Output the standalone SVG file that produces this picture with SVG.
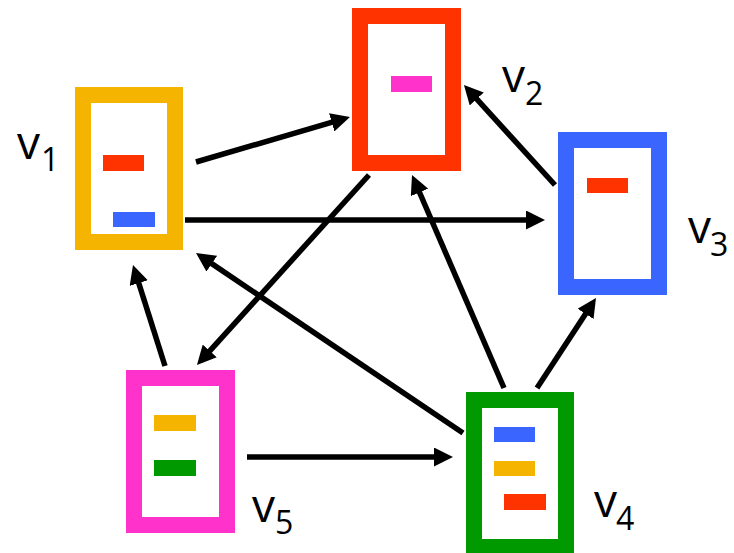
<svg xmlns="http://www.w3.org/2000/svg" width="734" height="553" viewBox="0 0 734 553">
<style>
.frame{fill:#fff;stroke-width:16}
.lbl{font-family:"Open Sans","Liberation Sans",sans-serif;font-size:46px;fill:#000}
.sub{font-size:32px}
.edge{stroke:#000;stroke-width:5.5;fill:none}
</style>
<defs>
<marker id="ah" viewBox="0 0 19 19" markerWidth="19" markerHeight="19" markerUnits="userSpaceOnUse" refX="13" refY="9.5" orient="auto">
<path d="M0,0 L19,9.5 L0,19 z" fill="#000"/>
</marker>
</defs>
<rect width="734" height="553" fill="#fff"/>
<g id="v1">
<rect class="frame" x="83" y="95" width="92" height="147" stroke="#F4B400"/>
<rect x="103" y="155" width="41" height="16" fill="#FF3300"/>
<rect x="113" y="212" width="42" height="15" fill="#3A66FF"/>
<text class="lbl" x="17" y="159">v</text><text class="lbl sub" x="41" y="171">1</text>
</g>
<g id="v2">
<rect class="frame" x="360" y="16" width="93" height="147" stroke="#FF3300"/>
<rect x="391" y="76" width="41" height="16" fill="#FF33CC"/>
<text class="lbl" x="502" y="92">v</text><text class="lbl sub" x="525" y="105">2</text>
</g>
<g id="v3">
<rect class="frame" x="566" y="140" width="93" height="147" stroke="#3A66FF"/>
<rect x="587" y="178" width="41" height="15" fill="#FF3300"/>
<text class="lbl" x="688" y="243">v</text><text class="lbl sub" x="710" y="256">3</text>
</g>
<g id="v5">
<rect class="frame" x="134" y="378" width="93" height="147" stroke="#FF33CC"/>
<rect x="154" y="415" width="42" height="16" fill="#F4B400"/>
<rect x="154" y="460" width="42" height="16" fill="#009900"/>
<text class="lbl" x="252" y="522">v</text><text class="lbl sub" x="275" y="534">5</text>
</g>
<g id="v4">
<rect class="frame" x="474" y="400" width="92" height="147" stroke="#009900"/>
<rect x="494" y="427" width="41" height="15" fill="#3A66FF"/>
<rect x="494" y="461" width="41" height="15" fill="#F4B400"/>
<rect x="504" y="494" width="42" height="16" fill="#FF3300"/>
<text class="lbl" x="594" y="517">v</text><text class="lbl sub" x="616" y="530">4</text>
</g>
<g id="edges">
<line class="edge" x1="185" y1="220" x2="539" y2="220" marker-end="url(#ah)"/>
<line class="edge" x1="196" y1="162" x2="344.2" y2="118.7" marker-end="url(#ah)"/>
<line class="edge" x1="369" y1="175" x2="201" y2="360.6" marker-end="url(#ah)"/>
<line class="edge" x1="463" y1="433" x2="201" y2="256.4" marker-end="url(#ah)"/>
<line class="edge" x1="165" y1="366" x2="134.8" y2="270.7" marker-end="url(#ah)"/>
<line class="edge" x1="504" y1="388" x2="414.4" y2="180.5" marker-end="url(#ah)"/>
<line class="edge" x1="537" y1="388" x2="592.7" y2="303" marker-end="url(#ah)"/>
<line class="edge" x1="555" y1="185" x2="468" y2="89.4" marker-end="url(#ah)"/>
<line class="edge" x1="247" y1="457" x2="447" y2="457" marker-end="url(#ah)"/>
</g>
</svg>
